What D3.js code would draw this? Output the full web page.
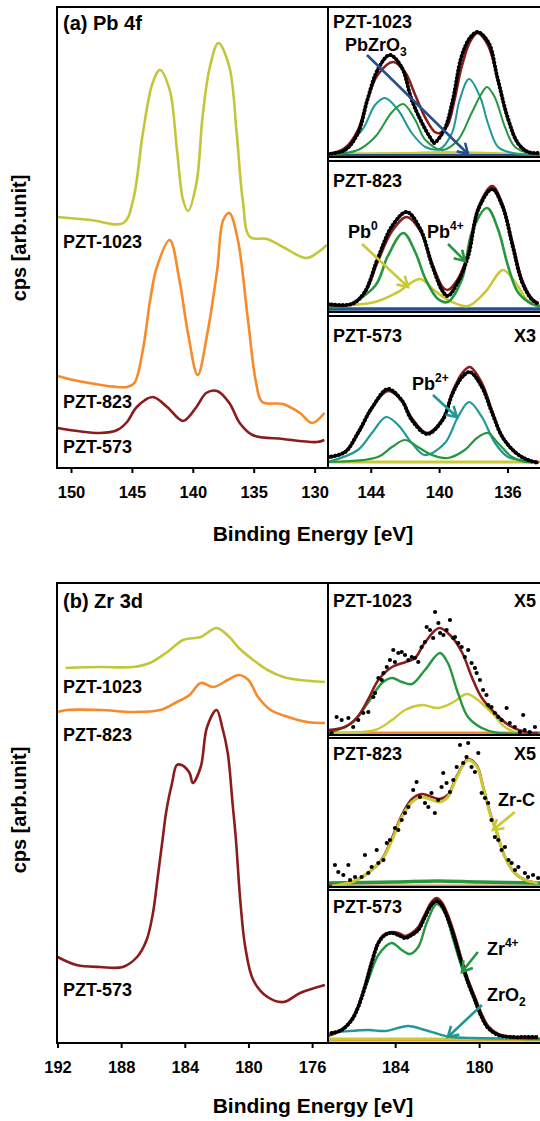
<!DOCTYPE html>
<html lang="en">
<head>
<meta charset="UTF-8">
<title>XPS Pb 4f and Zr 3d</title>
<script src="https://d3js.org/d3.v7.min.js"></script>
<style>
    body { margin: 0; background: #fff; }
    svg text { font-family: Arial, "Liberation Sans", sans-serif; font-weight: bold; fill: #000; }
</style>
</head>
<body>
<svg id="chart" width="540" height="1121"></svg>
<script>
// ---------- data (binding energy [eV], intensity [arb.]) ----------
const pbTicksLeft = [150, 145, 140, 135, 130];
const pbTicksRight = [144, 140, 136];
const zrTicksLeft = [192, 188, 184, 180, 176];
const zrTicksRight = [184, 180];

// (a) Pb 4f survey, stacked
const pb1023Raw = [[151.1,251],[148.4,248],[145.7,245],[144.9,268],[144.1,335],[143.3,385],[142.7,398],[141.9,378],[141.3,318],[140.8,268],[140.4,257],[139.7,285],[139.2,351],[138.6,401],[137.9,425],[137.0,401],[136.4,335],[135.9,268],[135.3,231],[133.9,229],[132.6,221],[130.7,210],[129.8,215],[129.0,223]];
const pb823Raw = [[151.1,92],[149.0,86],[145.4,81],[144.8,85],[144.1,118],[143.5,168],[142.95,201],[141.9,228],[141.1,188],[140.4,135],[139.6,93],[138.8,135],[138.0,198],[137.5,248],[137.0,255],[136.3,228],[135.5,151],[134.8,85],[134.3,66],[132.6,64],[131.2,55],[130.2,45],[129.2,55]];
const pb573Raw = [[151.1,40],[147.6,35],[146.2,38],[145.4,46],[144.6,61],[143.3,71],[142.1,61],[140.8,47],[139.7,61],[138.9,75],[138.0,77],[137.0,65],[136.15,45],[135.1,33],[132.6,29],[129.8,26],[129.2,28]];

// Pb 4f fits, PZT-1023
const pb1023Data = [[146.5,1],[145.5,5],[144.75,22],[144.2,55],[143.6,85],[142.9,100],[142.2,88],[141.6,55],[141.0,32],[140.4,14],[140.3,12],[139.7,25],[139.2,55],[138.7,98],[138.2,117],[137.75,123],[137.1,112],[136.6,78],[136.0,38],[135.4,12],[134.8,3],[134.2,2]];
const pb1023Env = [[146.5,1],[145.5,7],[144.75,25],[144.2,55],[143.6,80],[142.7,93],[142.0,83],[141.4,60],[140.8,37],[140.25,23],[139.95,22],[139.5,30],[139.1,55],[138.7,87],[138.2,113],[137.75,122],[137.15,110],[136.55,75],[136.0,37],[135.4,12],[134.8,3],[134.2,1]];
const pb1023PbZrO3 = [[146.5,0],[145.9,3],[144.5,25],[143.75,50],[143.17,57],[142.4,45],[141.6,22],[140.8,8],[139.95,6],[139.25,22],[138.8,55],[138.25,76],[137.6,58],[137.15,32],[136.55,8],[135.7,2],[134.2,0]];
const pb1023Pb4 = [[146.5,0],[144.75,5],[143.75,18],[142.75,43],[142.1,51],[141.4,35],[140.8,15],[139.8,5],[138.9,15],[138.1,42],[137.5,62],[137.2,68],[136.75,58],[136.15,28],[135.56,8],[134.57,1],[134.1,0]];
const pb1023Pb0 = [[146.5,1],[142,1.5],[140,2.5],[138,2],[136,1],[134.1,0.5]];
const pb1023Base = [[146.5,0],[134.1,0]];

// Pb 4f fits, PZT-823
const pb823Data = [[146.5,5],[145.1,5],[144.35,17],[143.6,50],[142.75,83],[141.9,97],[141.1,80],[140.4,43],[139.8,18],[139.5,13],[138.9,27],[138.3,53],[137.7,100],[136.9,120],[136.3,103],[135.7,63],[135.15,27],[134.6,10],[134.2,5]];
const pb823Env = [[146.5,4],[145.1,5],[144.35,16],[143.6,47],[142.75,78],[141.9,92],[141.1,78],[140.4,45],[139.8,22],[139.5,19],[138.9,30],[138.3,56],[137.7,102],[136.9,123],[136.3,105],[135.7,66],[135.15,29],[134.6,11],[134.2,6]];
const pb823Pb4 = [[146.5,2],[145.5,3],[143.75,23],[143.0,53],[142.1,76],[141.4,57],[140.8,30],[140.07,10],[139.5,7],[138.66,30],[138.08,77],[137.2,101],[136.56,80],[135.97,43],[135.4,17],[134.57,5],[134.1,3]];
const pb823Pb0 = [[146.5,3],[143.75,7],[142.4,17],[141.12,30],[140.24,18],[139.25,7],[138.31,3],[137.3,17],[136.27,39],[135.56,27],[134.8,8],[134.2,3]];
const pb823Base = [[146.5,0],[134.1,0]];

// Pb 4f fits, PZT-573 (x3)
const pb573Data = [[146.5,6],[145.5,11],[144.75,30],[143.9,56],[143.0,74],[142.2,63],[141.6,43],[140.7,29],[139.8,43],[139.2,70],[138.65,86],[138.2,91],[137.5,76],[136.9,50],[136.3,26],[135.5,10],[134.8,3],[134.2,0]];
const pb573Env = [[146.5,5],[145.5,11],[144.75,29],[143.9,56],[143.0,72],[142.2,63],[141.6,45],[140.7,30],[139.8,44],[139.2,72],[138.65,90],[138.2,96],[137.5,80],[136.9,52],[136.3,26],[135.5,10],[134.8,3],[134.2,1]];
const pb573Pb2 = [[146.5,1],[144.75,13],[143.93,30],[143.1,46],[142.4,38],[141.6,20],[140.83,8],[139.66,20],[138.9,46],[138.25,61],[137.5,46],[136.73,20],[135.97,6],[135.15,3],[134.2,1]];
const pb573Pb4 = [[146.5,1],[143.58,6],[142.76,16],[142.0,23],[141.24,16],[140.42,8],[139.48,5],[138.5,13],[137.79,25],[137.14,30],[136.56,20],[135.74,6],[134.98,1],[134.2,1]];
const pb573Base = [[146.5,1],[134.1,1]];

// (b) Zr 3d survey, stacked
const zr1023Raw = [[191.5,375],[189.3,376],[187.25,376],[186.2,380],[185.1,391],[184.1,403],[183.0,406],[182.0,415],[181.2,406],[180.6,395],[179.7,383],[178.8,373],[177.8,366],[176.75,363],[175.2,361]];
const zr823Raw = [[192.0,331],[191.4,333],[189.3,333],[187.25,331],[185.55,333],[184.5,341],[183.7,348],[183.0,360],[182.2,356],[181.3,363],[180.6,368],[180.0,363],[179.4,346],[178.6,333],[177.5,326],[176.3,321],[175.2,320]];
const zr573Raw = [[192.0,86],[190.8,78],[189.3,76],[187.9,76],[187.0,86],[186.4,103],[186.0,130],[185.7,166],[185.4,203],[185.15,233],[184.8,260],[184.5,278],[184.2,278],[183.7,270],[183.5,260],[183.0,276],[182.6,316],[182.0,333],[181.65,316],[181.3,290],[181.0,240],[180.8,206],[180.5,140],[180.2,96],[179.7,63],[178.8,46],[177.8,41],[176.75,50],[175.2,58]];

// Zr 3d fits, PZT-1023 (x5)
const zr1023Data = [[187.03,0],[186.79,16],[186.55,13],[186.23,15],[186.0,6],[185.76,13],[185.52,20],[185.28,21],[185.04,36],[184.96,40],[184.8,55],[184.64,53],[184.56,60],[184.4,66],[184.25,73],[184.09,83],[184.01,71],[183.85,80],[183.69,81],[183.53,78],[183.37,73],[183.21,76],[183.06,75],[182.9,71],[182.74,86],[182.58,91],[182.5,106],[182.34,103],[182.19,95],[182.1,121],[181.94,110],[181.86,100],[181.7,98],[181.55,103],[181.39,113],[181.23,95],[181.15,96],[180.99,90],[180.83,86],[180.68,76],[180.52,83],[180.36,70],[180.2,65],[180.12,60],[179.96,53],[179.81,43],[179.65,38],[179.57,28],[179.41,26],[179.25,20],[179.09,16],[178.93,13],[178.69,25],[178.54,10],[178.3,6],[178.06,1],[177.9,18],[177.83,3],[177.59,1],[177.34,6]];
const zr1023Env = [[187.2,3],[186.4,6],[185.8,16],[185.3,33],[184.8,53],[184.15,66],[183.5,71],[183.05,75],[182.6,90],[181.9,105],[181.3,96],[180.8,80],[180.35,56],[179.9,36],[179.25,20],[178.6,8],[177.8,1],[177.2,0]];
const zr1023Zr4 = [[187.2,0],[186.06,10],[185.3,30],[184.63,50],[184.15,55],[183.68,51],[183.2,49],[182.58,63],[181.87,80],[181.49,70],[181.01,40],[180.53,16],[179.87,5],[179.1,0],[177.1,0]];
const zr1023ZrC = [[187.2,0],[184.96,3],[184.15,13],[183.53,23],[182.72,28],[181.96,25],[181.3,30],[180.58,39],[180.06,33],[179.39,20],[178.77,6],[178.15,0],[177.1,0]];
const zr1023Base = [[187.2,0],[177.1,0]];

// Zr 3d fits, PZT-823 (x5)
const zr823Data = [[186.87,21],[186.71,14],[186.47,11],[186.23,21],[186.15,6],[185.91,9],[185.6,9],[185.44,31],[185.28,13],[185.12,19],[184.88,36],[184.8,23],[184.56,26],[184.4,43],[184.25,46],[184.01,58],[183.85,56],[183.69,66],[183.53,73],[183.37,79],[183.14,96],[182.98,104],[182.82,89],[182.58,83],[182.42,79],[182.27,93],[182.11,73],[181.95,86],[181.79,99],[181.71,113],[181.55,103],[181.39,94],[181.23,106],[181.07,119],[180.91,141],[180.76,123],[180.6,129],[180.52,143],[180.36,119],[180.2,114],[180.04,133],[179.88,93],[179.72,88],[179.57,83],[179.41,66],[179.25,49],[179.09,46],[178.93,36],[178.77,39],[178.6,26],[178.45,23],[178.29,16],[178.13,19],[177.82,13],[177.67,9],[177.43,11],[177.19,8]];
const zr823Env = [[187.2,0],[186.06,4],[185.3,13],[184.63,27],[184.15,48],[183.68,71],[183.2,87],[182.72,92],[182.25,89],[181.87,87],[181.49,91],[181.06,110],[180.53,127],[180.1,120],[179.82,100],[179.49,74],[179.15,53],[178.77,29],[178.3,13],[177.82,6],[177.2,3]];
const zr823ZrC = [[187.01,0],[186.06,4],[185.3,13],[184.63,26],[184.15,46],[183.68,69],[183.2,84],[182.72,89],[182.25,86],[181.87,84],[181.49,89],[181.06,109],[180.53,126],[180.1,119],[179.82,99],[179.49,73],[179.15,53],[178.77,29],[178.3,13],[177.82,6],[177.2,3]];
const zr823Zr4 = [[187.2,3],[184,4],[182,5],[180,4],[177.1,3]];
const zr823Base = [[187.2,0],[177.1,0]];

// Zr 3d fits, PZT-573
const zr573Data = [[187.02,7],[186.55,10],[186.07,20],[185.76,33],[185.44,53],[185.12,77],[184.8,97],[184.49,105],[184.17,107],[183.85,105],[183.53,102],[183.21,105],[182.9,110],[182.58,123],[182.27,135],[182.03,139],[181.79,135],[181.47,120],[181.15,100],[180.83,77],[180.52,57],[180.2,40],[179.88,23],[179.57,12],[179.09,5],[178.45,3],[177.82,3],[177.19,3]];
const zr573Env = [[187.2,4],[186.55,10],[186.07,20],[185.76,34],[185.44,55],[185.12,79],[184.8,98],[184.49,106],[184.17,108],[183.85,107],[183.53,104],[183.21,107],[182.9,113],[182.58,126],[182.27,138],[182.03,142],[181.79,138],[181.47,124],[181.15,104],[180.83,80],[180.52,60],[180.2,43],[179.88,26],[179.57,14],[179.09,6],[178.45,3],[177.82,2],[177.19,2]];
const zr573Zr4 = [[187.03,5],[186.39,13],[185.91,27],[185.28,60],[184.8,85],[184.17,97],[183.69,90],[183.3,86],[182.9,93],[182.5,117],[182.02,136],[181.63,127],[181.23,100],[180.83,73],[180.36,47],[179.88,23],[179.4,10],[178.77,3],[177.1,1]];
const zr573ZrO2 = [[187.2,6],[187.03,7],[185.28,10],[184.49,9],[183.37,14],[182.58,10],[181.79,5],[181.31,3],[180.2,2],[177.1,1]];
const zr573ZrC = [[187.2,1],[177.1,1]];
const zr573Base = [[187.2,0],[177.1,0]];

// ---------- styling ----------
const col = {
    c1023: "#c2c73a", c823: "#f78a2a", c573: "#8a1c1c",
    teal: "#1f9996", green: "#24973f", blue: "#264f8e",
    yellow: "#c9c935", orange: "#f08a24", env: "#8a1c1c"
};

const svg = d3.select("#chart");
const defs = svg.append("defs");
let clipCount = 0;

// open arrowheads, one per colour
["blue", "yellow", "green", "teal"].forEach(k => {
    defs.append("marker")
        .attr("id", "arrow-" + k)
        .attr("markerUnits", "userSpaceOnUse")
        .attr("markerWidth", 16).attr("markerHeight", 16)
        .attr("refX", 11).attr("refY", 7)
        .attr("orient", "auto")
        .append("path")
        .attr("d", "M1,1 L11,7 L1,13")
        .attr("fill", "none")
        .attr("stroke", col[k])
        .attr("stroke-width", 2.6);
});

function makePanel(x0, x1, y0, y1, dom, base) {
    const x = d3.scaleLinear().domain(dom).range([x0, x1]);
    const y = d3.scaleLinear().domain([0, 100]).range([base, base - 100]);
    const id = "clip" + (clipCount++);
    defs.append("clipPath").attr("id", id)
        .append("rect").attr("x", x0).attr("y", y0)
        .attr("width", x1 - x0).attr("height", y1 - y0);
    const g = svg.append("g").attr("clip-path", `url(#${id})`);
    return { x, y, g, x0, x1, y0, y1 };
}

function lineGen(p) {
    return d3.line()
        .x(d => p.x(d[0]))
        .y(d => p.y(d[1]))
        .curve(d3.curveCatmullRom.alpha(0.5));
}

function drawLine(p, data, color, width) {
    p.g.append("path").datum(data)
        .attr("d", lineGen(p))
        .attr("fill", "none")
        .attr("stroke", color)
        .attr("stroke-width", width)
        .attr("stroke-linejoin", "round");
}

// dense measured points look like a beaded black line
function drawDenseDots(p, data) {
    drawLine(p, data, "#000", 2.4);
    p.g.append("path").datum(data)
        .attr("d", lineGen(p))
        .attr("fill", "none")
        .attr("stroke", "#000")
        .attr("stroke-width", 4)
        .attr("stroke-linecap", "round")
        .attr("stroke-dasharray", "0.1 3.6");
}

function drawScatter(p, data) {
    p.g.selectAll(null).data(data).enter()
        .append("circle")
        .attr("cx", d => p.x(d[0]))
        .attr("cy", d => p.y(d[1]))
        .attr("r", 2.1)
        .attr("fill", "#000");
}

function frameLeft(p) {
    svg.append("rect")
        .attr("x", p.x0).attr("y", p.y0)
        .attr("width", p.x1 - p.x0).attr("height", p.y1 - p.y0)
        .attr("fill", "none").attr("stroke", "#000").attr("stroke-width", 2);
}

function frameRight(p) {
    svg.append("path")
        .attr("d", `M${p.x1},${p.y0} H${p.x0} V${p.y1} H${p.x1}`)
        .attr("fill", "none").attr("stroke", "#000").attr("stroke-width", 2);
}

function label(x, y, main, opts = {}) {
    const t = svg.append("text")
        .attr("x", x).attr("y", y)
        .attr("font-size", opts.size || 18)
        .attr("text-anchor", opts.anchor || "start");
    t.append("tspan").text(main);
    if (opts.sup) t.append("tspan").attr("font-size", 12).attr("dy", -8).text(opts.sup);
    if (opts.sub) t.append("tspan").attr("font-size", 12).attr("dy", 5).text(opts.sub);
    return t;
}

function dataLabel(p, e, v, main, opts) {
    return label(p.x(e), p.y(v), main, opts);
}

function arrow(p, from, to, colorKey) {
    svg.append("line")
        .attr("x1", p.x(from[0])).attr("y1", p.y(from[1]))
        .attr("x2", p.x(to[0])).attr("y2", p.y(to[1]))
        .attr("stroke", col[colorKey])
        .attr("stroke-width", 2.6)
        .attr("marker-end", `url(#arrow-${colorKey})`);
}

function xAxis(p, yPos, ticks) {
    const ax = svg.append("g")
        .attr("transform", `translate(0,${yPos})`)
        .call(d3.axisBottom(p.x).tickValues(ticks).tickSize(5).tickSizeOuter(0).tickPadding(13));
    ax.select(".domain").remove();
    ax.selectAll(".tick line").attr("stroke", "#000").attr("stroke-width", 2);
    ax.selectAll(".tick text")
        .attr("font-size", 16.5)
        .attr("font-family", "Arial, 'Liberation Sans', sans-serif")
        .attr("font-weight", "bold")
        .attr("fill", "#000");
}

// ---------- (a) Pb 4f ----------
const tl = makePanel(57, 328, 7, 468, [151.15, 128.9], 468);
tl.y.domain([0, 461]).range([468, 7]);
drawLine(tl, pb1023Raw, col.c1023, 2.6);
drawLine(tl, pb823Raw, col.c823, 2.6);
drawLine(tl, pb573Raw, col.c573, 2.6);
frameLeft(tl);
xAxis(tl, 468, pbTicksLeft);
label(63, 30, "(a) Pb 4f", { size: 20 });
label(63, 248, "PZT-1023");
label(63, 408, "PZT-823");
label(63, 453, "PZT-573");

const pbDom = [146.5, 134.1];
const tr1 = makePanel(328, 540, 7, 157, pbDom, 155);
drawLine(tr1, pb1023Pb0, col.yellow, 3);
drawLine(tr1, pb1023Base, col.blue, 2);
drawLine(tr1, pb1023PbZrO3, col.teal, 2);
drawLine(tr1, pb1023Pb4, col.green, 2);
drawLine(tr1, pb1023Env, col.env, 2.6);
drawDenseDots(tr1, pb1023Data);
frameRight(tr1);
label(333, 28, "PZT-1023");
dataLabel(tr1, 145.51, 104, "PbZrO", { sub: "3" });
arrow(tr1, [144.22, 100], [138.31, 1], "blue");

const tr2 = makePanel(328, 540, 161, 312, pbDom, 309);
drawLine(tr2, pb823Base, col.blue, 3.5);
drawLine(tr2, pb823Pb0, col.yellow, 2.6);
drawLine(tr2, pb823Pb4, col.green, 2.6);
drawLine(tr2, pb823Env, col.env, 2.6);
drawDenseDots(tr2, pb823Data);
frameRight(tr2);
label(333, 187, "PZT-823");
dataLabel(tr2, 145.33, 71, "Pb", { sup: "0" });
arrow(tr2, [144.51, 65], [141.82, 22], "yellow");
dataLabel(tr2, 140.71, 71, "Pb", { sup: "4+" });
arrow(tr2, [139.48, 65], [138.49, 48], "green");

const tr3 = makePanel(328, 540, 316, 468, pbDom, 463);
drawLine(tr3, pb573Base, col.yellow, 3);
drawLine(tr3, pb573Pb2, col.teal, 2.2);
drawLine(tr3, pb573Pb4, col.green, 2.2);
drawLine(tr3, pb573Env, col.env, 2.6);
drawDenseDots(tr3, pb573Data);
frameRight(tr3);
label(333, 342, "PZT-573");
label(536, 342, "X3", { anchor: "end" });
dataLabel(tr3, 141.59, 73, "Pb", { sup: "2+" });
arrow(tr3, [140.36, 68], [138.96, 46], "teal");
xAxis(tr3, 468, pbTicksRight);

svg.append("text")
    .attr("x", 313).attr("y", 541)
    .attr("font-size", 21).attr("text-anchor", "middle")
    .text("Binding Energy [eV]");
svg.append("text")
    .attr("transform", "translate(26,238) rotate(-90)")
    .attr("font-size", 20).attr("text-anchor", "middle")
    .text("cps [arb.unit]");

// ---------- (b) Zr 3d ----------
const bl = makePanel(57.5, 328, 583, 1043, [192, 175], 1043);
bl.y.domain([0, 460]).range([1043, 583]);
drawLine(bl, zr1023Raw, col.c1023, 2.6);
drawLine(bl, zr823Raw, col.c823, 2.6);
drawLine(bl, zr573Raw, col.c573, 2.6);
frameLeft({ x0: 57, x1: 328, y0: 583, y1: 1043 });
xAxis(bl, 1043, zrTicksLeft);
label(63, 608, "(b) Zr 3d", { size: 20 });
label(63, 693, "PZT-1023");
label(63, 741, "PZT-823");
label(63, 996, "PZT-573");

const zrDom = [187.2, 177.1];
const br1 = makePanel(328, 540, 583, 735, zrDom, 733);
drawLine(br1, zr1023Base, col.orange, 3);
drawLine(br1, zr1023ZrC, col.yellow, 2.4);
drawLine(br1, zr1023Zr4, col.green, 2.4);
drawLine(br1, zr1023Env, col.env, 2.6);
drawScatter(br1, zr1023Data);
frameRight(br1);
label(333, 607, "PZT-1023");
label(536, 607, "X5", { anchor: "end" });

const br2 = makePanel(328, 540, 738, 887, zrDom, 886);
drawLine(br2, zr823Base, col.orange, 3);
drawLine(br2, zr823Zr4, col.green, 3.5);
drawLine(br2, zr823Env, col.env, 2.6);
drawLine(br2, zr823ZrC, col.yellow, 3);
drawScatter(br2, zr823Data);
frameRight(br2);
label(333, 760, "PZT-823");
label(536, 760, "X5", { anchor: "end" });
dataLabel(br2, 179.1, 80, "Zr-C");
arrow(br2, [178.3, 74], [179.34, 56], "yellow");

const br3 = makePanel(328, 540, 890, 1043, zrDom, 1040);
drawLine(br3, zr573Base, col.orange, 3);
drawLine(br3, zr573ZrC, col.yellow, 3);
drawLine(br3, zr573ZrO2, col.teal, 2.4);
drawLine(br3, zr573Zr4, col.green, 2.4);
drawLine(br3, zr573Env, col.env, 2.6);
drawDenseDots(br3, zr573Data);
frameRight(br3);
label(333, 913, "PZT-573");
dataLabel(br3, 179.63, 85, "Zr", { sup: "4+" });
arrow(br3, [180.06, 88], [180.82, 68], "green");
dataLabel(br3, 179.63, 39, "ZrO", { sub: "2" });
arrow(br3, [179.87, 35], [181.49, 3], "teal");
xAxis(br3, 1043, zrTicksRight);

svg.append("text")
    .attr("x", 313).attr("y", 1113)
    .attr("font-size", 21).attr("text-anchor", "middle")
    .text("Binding Energy [eV]");
svg.append("text")
    .attr("transform", "translate(26,810) rotate(-90)")
    .attr("font-size", 20).attr("text-anchor", "middle")
    .text("cps [arb.unit]");
</script>
</body>
</html>
